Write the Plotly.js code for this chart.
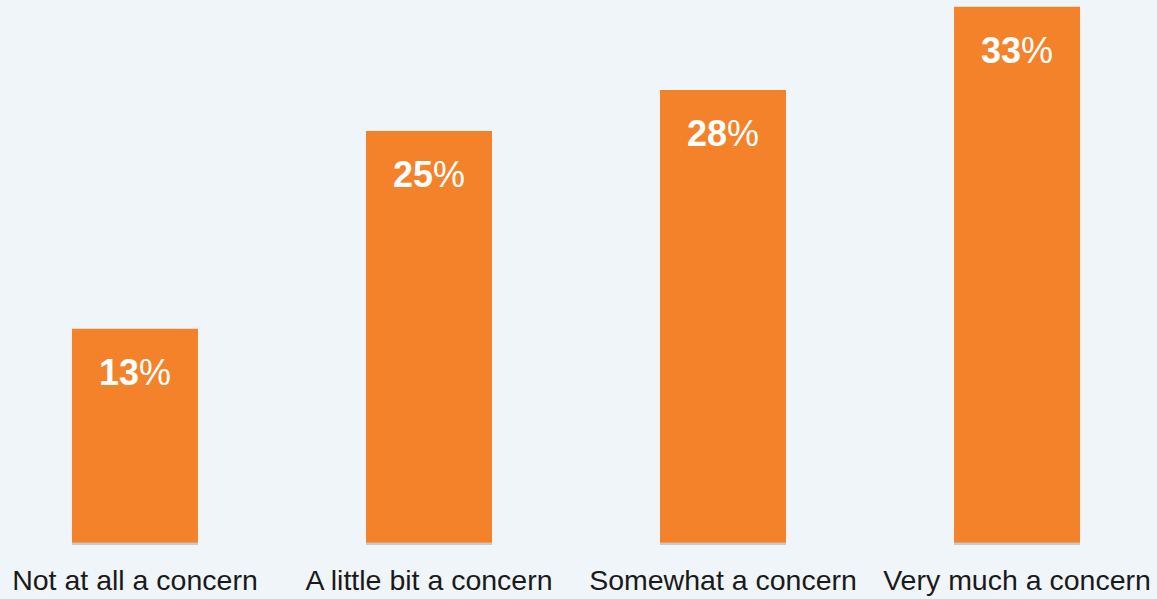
<!DOCTYPE html>
<html>
<head>
<meta charset="utf-8">
<script src="https://cdn.plot.ly/plotly-3.0.1.min.js"></script>
<style>
html,body{margin:0;padding:0;background:#f0f5f9;}
#chart{width:1157px;height:599px;}
</style>
</head>
<body>
<div id="chart"></div>
<script>
const categories = ["Not at all a concern", "A little bit a concern", "Somewhat a concern", "Very much a concern"];
const values = [13.1, 25.2, 27.7, 32.8];
const valueLabels = ["13", "25", "28", "33"];

const barColor = "#f4822a";
const bg = "#f0f5f9";

const bars = {
  type: "bar",
  x: categories,
  y: values,
  width: 0.4286,
  marker: {color: barColor},
  hoverinfo: "x+y",
  showlegend: false
};

const baseline = {
  type: "bar",
  x: categories,
  y: categories.map(() => 0.13),
  base: -0.13,
  width: 0.4286,
  marker: {color: "#c9cacc"},
  hoverinfo: "skip",
  showlegend: false
};

const annotations = categories.map((c, i) => ({
  x: c,
  y: values[i],
  xref: "x",
  yref: "y",
  text: "<b>" + valueLabels[i] + "</b>%",
  showarrow: false,
  yanchor: "top",
  yshift: -21,
  font: {family: "Liberation Sans, Arial, sans-serif", size: 36, color: "#ffffff"}
}));

const layout = {
  width: 1157,
  height: 599,
  margin: {l: 0, r: 0, t: 0, b: 54},
  paper_bgcolor: bg,
  plot_bgcolor: bg,
  barmode: "overlay",
  xaxis: {
    range: [-0.459, 3.476],
    showgrid: false,
    zeroline: false,
    showline: false,
    ticks: "",
    ticklabelstandoff: 15,
    tickfont: {family: "Liberation Sans, Arial, sans-serif", size: 28.5, color: "#1a1a1a"},
    fixedrange: true
  },
  yaxis: {
    range: [-0.13, 33.21],
    visible: false,
    showgrid: false,
    zeroline: false,
    fixedrange: true
  },
  annotations: annotations,
  showlegend: false
};

Plotly.newPlot("chart", [baseline, bars], layout, {displayModeBar: false, staticPlot: true});
</script>
</body>
</html>
